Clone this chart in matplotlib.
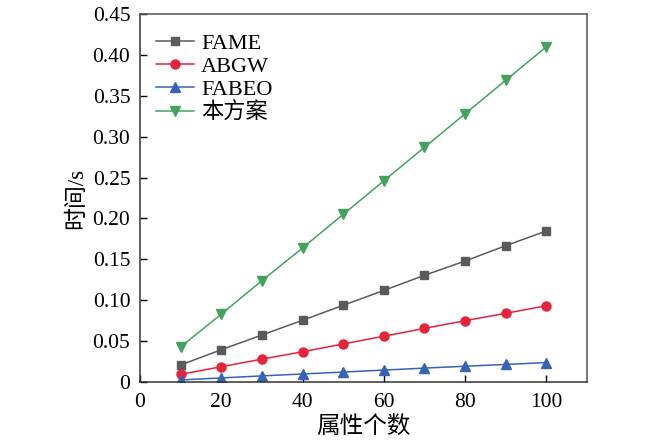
import matplotlib
matplotlib.use("Agg")
import matplotlib.pyplot as plt
from matplotlib.ticker import FuncFormatter

plt.rcParams['font.family'] = ['Liberation Serif', 'Noto Sans CJK SC', 'DejaVu Sans']
plt.rcParams['axes.unicode_minus'] = False

x = [10, 20, 30, 40, 50, 60, 70, 80, 90, 100]
fame = [0.0208, 0.0395, 0.0575, 0.0755, 0.0938, 0.112, 0.1305, 0.148, 0.1667, 0.1847]
abgw = [0.0094, 0.0187, 0.028, 0.037, 0.0465, 0.056, 0.0656, 0.075, 0.084, 0.0933]
fabeo = [0.0025, 0.005, 0.0075, 0.0098, 0.0122, 0.0146, 0.017, 0.0193, 0.0215, 0.0238]
ours = [0.043, 0.083, 0.124, 0.164, 0.205, 0.246, 0.287, 0.328, 0.369, 0.410]

labels = ['FAME', 'ABGW', 'FABEO', '本方案']
xticks = [0, 20, 40, 60, 80, 100]
yticks = [0, 0.05, 0.10, 0.15, 0.20, 0.25, 0.30, 0.35, 0.40, 0.45]

fig = plt.figure(figsize=(6.5, 4.42), dpi=100)
ax = fig.add_axes([0.2154, 0.1357, 0.6877, 0.8326])

ax.plot(x, fame, color='#5a5a5a', marker='s', markersize=5.5, linewidth=1.1, label=labels[0])
ax.plot(x, abgw, color='#e3243b', marker='o', markersize=6.5, linewidth=1.1, label=labels[1])
ax.plot(x, fabeo, color='#3563b8', marker='^', markersize=7, linewidth=1.1, label=labels[2])
ax.plot(x, ours, color='#43a35e', marker='v', markersize=7, linewidth=1.1, label=labels[3])

ax.set_xlim(0, 110)
ax.set_ylim(0, 0.45)
ax.set_xticks(xticks)
ax.set_yticks(yticks)
ax.yaxis.set_major_formatter(FuncFormatter(lambda v, p: '0' if abs(v) < 1e-9 else f'{v:.2f}'))
ax.tick_params(direction='in', length=5, width=1, labelsize=15.5, top=False, right=False)
ax.tick_params(axis='y', pad=7)
ax.tick_params(axis='x', pad=8)
for s in ax.spines.values():
    s.set_linewidth(1.1)
    s.set_color('#333333')
ax.spines['top'].set_color('#555555')
ax.spines['right'].set_color('#555555')

ax.set_xlabel('属性个数', fontsize=17, labelpad=3)
ax.set_ylabel('时间/s', fontsize=16.5, labelpad=4)

ax.legend(loc='upper left', frameon=False, fontsize=16, handlelength=1.75,
          handletextpad=0.3, labelspacing=0.12, borderaxespad=0.3,
          bbox_to_anchor=(0.0, 0.99))

fig.savefig('out.png', dpi=100)
